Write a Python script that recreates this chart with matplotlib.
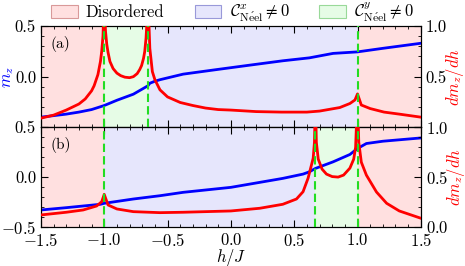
import matplotlib
matplotlib.use("Agg")
import matplotlib.pyplot as plt
from matplotlib.patches import Patch
from matplotlib.ticker import MultipleLocator

plt.rcParams['font.family'] = 'serif'
plt.rcParams['font.serif'] = ['cmr10']
plt.rcParams['mathtext.fontset'] = 'cm'
plt.rcParams['axes.formatter.use_mathtext'] = True

# panel (a): magnetization and its derivative
h_mz_a = [-1.5, -1.4, -1.3, -1.2, -1.1, -1.0, -0.9, -0.77, -0.655, -0.64, -0.6,
          -0.56, -0.377, -0.113, 0.15, 0.41, 0.62, 0.807, 1.0, 1.2, 1.5]
mz_a = [-0.40, -0.385, -0.37, -0.35, -0.325, -0.285, -0.233, -0.173, -0.09, -0.065,
        -0.045, -0.03, 0.025, 0.07, 0.114, 0.157, 0.186, 0.23, 0.245, 0.28, 0.33]
h_dm_a = [-1.5, -1.4, -1.3, -1.2, -1.15, -1.1, -1.08, -1.05, -1.03, -1.02, -1.01, -1.0,
          -0.99, -0.98, -0.97, -0.955, -0.93, -0.9, -0.87, -0.837, -0.80, -0.77, -0.74,
          -0.72, -0.705, -0.69, -0.68, -0.67, -0.66,
          -0.655, -0.64, -0.62, -0.6, -0.56, -0.5, -0.4, -0.3, -0.2, -0.1, 0.0, 0.2, 0.4,
          0.6, 0.7, 0.86, 0.94, 0.98, 1.0, 1.03, 1.1, 1.21, 1.33, 1.5]
dm_a = [0.09, 0.12, 0.17, 0.23, 0.28, 0.36, 0.41, 0.52, 0.65, 0.75, 0.9, 1.3,
        0.95, 0.82, 0.74, 0.65, 0.58, 0.535, 0.51, 0.495, 0.49, 0.50, 0.53,
        0.57, 0.61, 0.68, 0.75, 0.88, 1.1,
        1.3, 0.78, 0.55, 0.47, 0.37, 0.30, 0.245, 0.215, 0.19, 0.175, 0.17, 0.155, 0.15,
        0.15, 0.16, 0.195, 0.235, 0.27, 0.33, 0.22, 0.185, 0.15, 0.13, 0.10]

# panel (b)
h_mz_b = [-1.5, -1.3, -1.03, -1.0, -0.77, -0.56, -0.377, 0.0, 0.228, 0.41, 0.57,
          0.62, 0.668, 0.807, 0.94, 1.0, 1.07, 1.2, 1.5]
mz_b = [-0.33, -0.307, -0.273, -0.263, -0.22, -0.187, -0.153, -0.103, -0.053, -0.013,
        0.03, 0.053, 0.087, 0.153, 0.227, 0.287, 0.337, 0.36, 0.393]
h_dm_b = [-1.5, -1.3, -1.166, -1.06, -1.02, -1.0, -0.97, -0.9, -0.77, -0.56, -0.377,
          0.0, 0.228, 0.41, 0.518, 0.57, 0.61, 0.65, 0.66, 0.668, 0.675, 0.69, 0.72,
          0.755, 0.80, 0.847, 0.89, 0.94, 0.97, 0.985, 1.0, 1.01, 1.03, 1.07, 1.15,
          1.23, 1.33, 1.5]
dm_b = [0.12, 0.147, 0.17, 0.21, 0.253, 0.327, 0.22, 0.18, 0.153, 0.143, 0.147,
        0.16, 0.187, 0.227, 0.28, 0.353, 0.49, 0.69, 0.85, 1.3, 0.85, 0.68, 0.58,
        0.53, 0.505, 0.50, 0.52, 0.59, 0.68, 0.8, 1.3, 0.85, 0.65, 0.52, 0.35,
        0.237, 0.16, 0.087]

# phase boundaries
bounds_a = [-1.0, -0.655, 1.0]
bounds_b = [-1.0, 0.668, 1.0]
phases_a = ['dis', 'y', 'x', 'dis']
phases_b = ['dis', 'x', 'y', 'dis']

c_dis = (1.0, 0.88, 0.88)
c_x = (0.90, 0.90, 0.99)
c_y = (0.90, 0.99, 0.90)
phase_col = {'dis': c_dis, 'x': c_x, 'y': c_y}
green = '#22dd22'

fig = plt.figure(figsize=(4.65, 2.66), dpi=100)
ax_a = fig.add_axes([0.088, 0.5215, 0.817, 0.3805])
ax_b = fig.add_axes([0.088, 0.147, 0.817, 0.3745], sharex=ax_a)

panels = [(ax_a, h_mz_a, mz_a, h_dm_a, dm_a, bounds_a, phases_a, '(a)'),
          (ax_b, h_mz_b, mz_b, h_dm_b, dm_b, bounds_b, phases_b, '(b)')]

for ax, hm, mz, hd, dm, bounds, phases, tag in panels:
    edges = [-1.5] + bounds + [1.5]
    for i, ph in enumerate(phases):
        ax.axvspan(edges[i], edges[i + 1], color=phase_col[ph], lw=0, zorder=0)
    ax.plot(hm, mz, color='#0000ff', lw=2, zorder=3)
    ax.set_xlim(-1.5, 1.5)
    ax.set_ylim(-0.5, 0.5)
    ax.set_yticks([-0.5, 0.0, 0.5])
    ax.yaxis.set_minor_locator(MultipleLocator(0.1))
    ax.xaxis.set_major_locator(MultipleLocator(0.5))
    ax.xaxis.set_minor_locator(MultipleLocator(0.1))
    ax.tick_params(which='both', direction='in', top=True, labelsize=12)
    ax.tick_params(which='major', length=5)
    ax.tick_params(which='minor', length=2.5)
    ax.set_ylabel('$m_z$', color='#0000ff', fontsize=12, labelpad=-1)
    ax.text(0.025, 0.9, tag, transform=ax.transAxes, fontsize=11,
            fontweight='bold', va='top', ha='left')

    ax2 = ax.twinx()
    ax2.plot(hd, dm, color='#ff0000', lw=2, zorder=3)
    ax2.set_ylim(0, 1.0)
    ax2.set_yticks([0.0, 0.5, 1.0])
    ax2.yaxis.set_minor_locator(MultipleLocator(0.1))
    ax2.tick_params(which='both', direction='in', labelsize=12)
    ax2.tick_params(which='major', length=5)
    ax2.tick_params(which='minor', length=2.5)
    ax2.set_ylabel('$dm_z/dh$', color='#ff0000', fontsize=12, labelpad=-2)
    for b in bounds:
        ax2.axvline(b, color=green, lw=1.5, ls=(0, (4, 2)), zorder=4)
    if ax is ax_a:
        ax2.set_yticklabels(['', '0.5', '1.0'])

ax_a.set_yticklabels(['', '0.0', '0.5'])
ax_a.tick_params(labelbottom=False)
ax_b.set_yticklabels(['$-0.5$', '0.0', '0.5'])
ax_b.set_xlabel('$h/J$', fontsize=12, labelpad=-1)

handles = [Patch(facecolor=c_dis, edgecolor=(0.85, 0.6, 0.6), lw=0.8),
           Patch(facecolor=c_x, edgecolor=(0.6, 0.6, 0.85), lw=0.8),
           Patch(facecolor=c_y, edgecolor=(0.6, 0.85, 0.6), lw=0.8)]
labels = ['Disordered',
          r'$\mathcal{C}^x_{\mathrm{N\acute{e}el}}\neq 0$',
          r'$\mathcal{C}^y_{\mathrm{N\acute{e}el}}\neq 0$']
fig.legend(handles, labels, loc='center', bbox_to_anchor=(0.5, 0.955), ncol=3,
           frameon=False, fontsize=12, handlelength=1.6, handleheight=0.8,
           columnspacing=1.8, handletextpad=0.5, borderaxespad=0)

fig.savefig('out.png', dpi=100)
